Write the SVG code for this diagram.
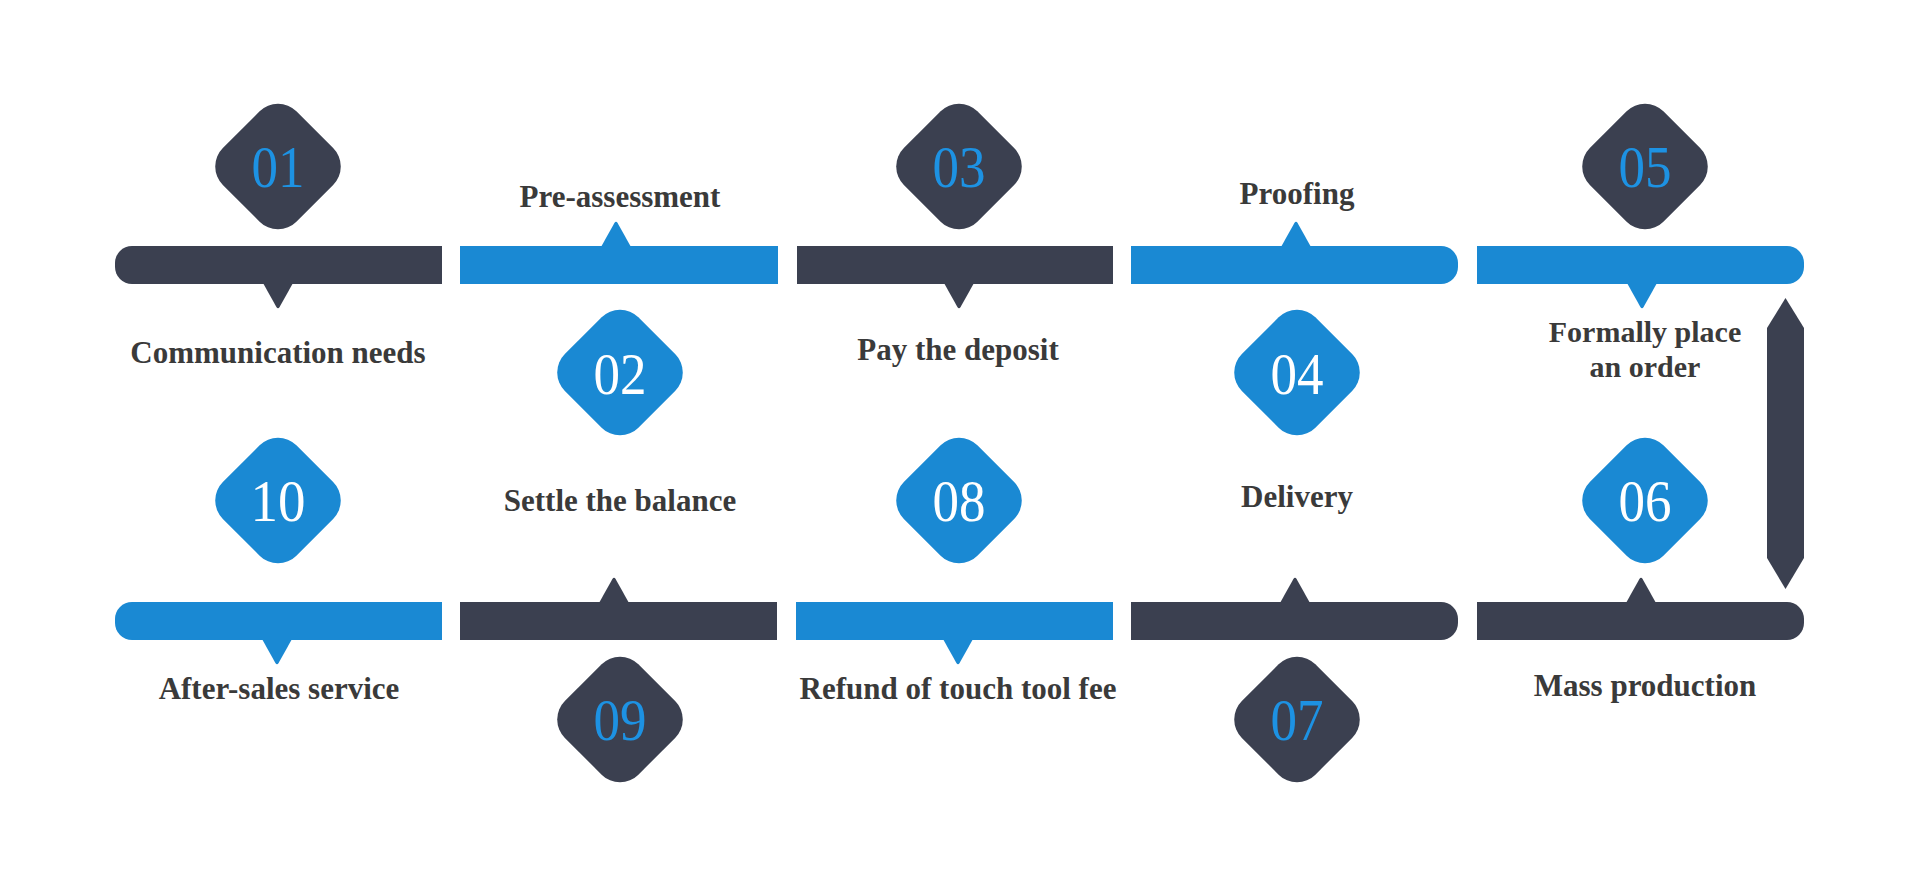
<svg xmlns="http://www.w3.org/2000/svg" xmlns:xlink="http://www.w3.org/1999/xlink" width="1920" height="887" viewBox="0 0 1920 887">
<style>
.dk{fill:#3b4050}
.bl{fill:#1a89d3}
.num{font-family:"Liberation Serif","Times New Roman",serif;font-size:59px;text-anchor:middle}
.nb{fill:#1d92e3}
.nw{fill:#ffffff}
.lbl{font-family:"Liberation Serif","Times New Roman",serif;font-size:31px;font-weight:bold;fill:#3a3a3a;text-anchor:middle}
.sm{font-size:30px}
</style>
<defs>
<path id="dia" transform="rotate(45)" d="M -26,-52 H 26 A 26 26 0 0 1 52,-26 V 26 A 26 26 0 0 1 26,52 H -26 A 26 26 0 0 1 -52,26 V -26 A 26 26 0 0 1 -26,-52 Z"/>
<path id="pdn" d="M -15,0 L 15,0 L 1.6,24 Q 0,26.5 -1.6,24 Z"/>
<path id="pup" d="M -15,0 L 15,0 L 1.6,-24 Q 0,-26.5 -1.6,-24 Z"/>
</defs>
<rect width="1920" height="887" fill="#ffffff"/>

<g id="step01">
<path class="dk" d="M 132,246 H 442 V 284 H 132 A 17 17 0 0 1 115,267 V 263 A 17 17 0 0 1 132,246 Z"/>
<use href="#pdn" class="dk" x="278" y="283"/>
<use href="#dia" class="dk" x="278" y="166.5"/>
<text class="num nb" x="278" y="187" textLength="53" lengthAdjust="spacingAndGlyphs">01</text>
<text class="lbl" x="278" y="363">Communication needs</text>
</g>

<g id="step02">
<rect class="bl" x="460" y="246" width="318" height="38"/>
<use href="#pup" class="bl" x="616" y="247"/>
<use href="#dia" class="bl" x="620" y="372.5"/>
<text class="num nw" x="620" y="394" textLength="53" lengthAdjust="spacingAndGlyphs">02</text>
<text class="lbl" x="620" y="207">Pre-assessment</text>
</g>

<g id="step03">
<rect class="dk" x="797" y="246" width="316" height="38"/>
<use href="#pdn" class="dk" x="959" y="283"/>
<use href="#dia" class="dk" x="959" y="166.5"/>
<text class="num nb" x="959" y="187" textLength="53" lengthAdjust="spacingAndGlyphs">03</text>
<text class="lbl" x="958" y="360">Pay the deposit</text>
</g>

<g id="step04">
<path class="bl" d="M 1131,246 H 1441 A 17 17 0 0 1 1458,263 V 267 A 17 17 0 0 1 1441,284 H 1131 Z"/>
<use href="#pup" class="bl" x="1296" y="247"/>
<use href="#dia" class="bl" x="1297" y="372.5"/>
<text class="num nw" x="1297" y="394" textLength="53" lengthAdjust="spacingAndGlyphs">04</text>
<text class="lbl" x="1297" y="204">Proofing</text>
</g>

<g id="step05">
<path class="bl" d="M 1477,246 H 1787 A 17 17 0 0 1 1804,263 V 267 A 17 17 0 0 1 1787,284 H 1477 Z"/>
<use href="#pdn" class="bl" x="1642" y="283"/>
<use href="#dia" class="dk" x="1645" y="166.5"/>
<text class="num nb" x="1645" y="187" textLength="53" lengthAdjust="spacingAndGlyphs">05</text>
<text class="lbl sm" x="1645" y="342">Formally place</text>
<text class="lbl sm" x="1645" y="377">an order</text>
</g>

<g id="step06">
<path class="dk" d="M 1477,602 H 1787 A 17 17 0 0 1 1804,619 V 623 A 17 17 0 0 1 1787,640 H 1477 Z"/>
<use href="#pup" class="dk" x="1641" y="603"/>
<use href="#dia" class="bl" x="1645" y="500.5"/>
<text class="num nw" x="1645" y="521" textLength="53" lengthAdjust="spacingAndGlyphs">06</text>
<text class="lbl" x="1645" y="696">Mass production</text>
</g>

<g id="step07">
<path class="dk" d="M 1131,602 H 1441 A 17 17 0 0 1 1458,619 V 623 A 17 17 0 0 1 1441,640 H 1131 Z"/>
<use href="#pup" class="dk" x="1295" y="603"/>
<use href="#dia" class="dk" x="1297" y="719.5"/>
<text class="num nb" x="1297" y="740" textLength="53" lengthAdjust="spacingAndGlyphs">07</text>
<text class="lbl" x="1297" y="507">Delivery</text>
</g>

<g id="step08">
<rect class="bl" x="796" y="602" width="317" height="38"/>
<use href="#pdn" class="bl" x="958" y="639"/>
<use href="#dia" class="bl" x="959" y="500.5"/>
<text class="num nw" x="959" y="521" textLength="53" lengthAdjust="spacingAndGlyphs">08</text>
<text class="lbl" x="958" y="699">Refund of touch tool fee</text>
</g>

<g id="step09">
<rect class="dk" x="460" y="602" width="317" height="38"/>
<use href="#pup" class="dk" x="614" y="603"/>
<use href="#dia" class="dk" x="620" y="719.5"/>
<text class="num nb" x="620" y="740" textLength="53" lengthAdjust="spacingAndGlyphs">09</text>
<text class="lbl" x="620" y="511">Settle the balance</text>
</g>

<g id="step10">
<path class="bl" d="M 132,602 H 442 V 640 H 132 A 17 17 0 0 1 115,623 V 619 A 17 17 0 0 1 132,602 Z"/>
<use href="#pdn" class="bl" x="277" y="639"/>
<use href="#dia" class="bl" x="278" y="500.5"/>
<text class="num nw" x="278" y="521" textLength="55" lengthAdjust="spacingAndGlyphs">10</text>
<text class="lbl" x="279" y="699">After-sales service</text>
</g>

<g id="connectors">
<polygon class="dk" points="1767,328 1785.5,298 1804,328 1804,558 1785.5,589 1767,558"/>
</g>
</svg>
